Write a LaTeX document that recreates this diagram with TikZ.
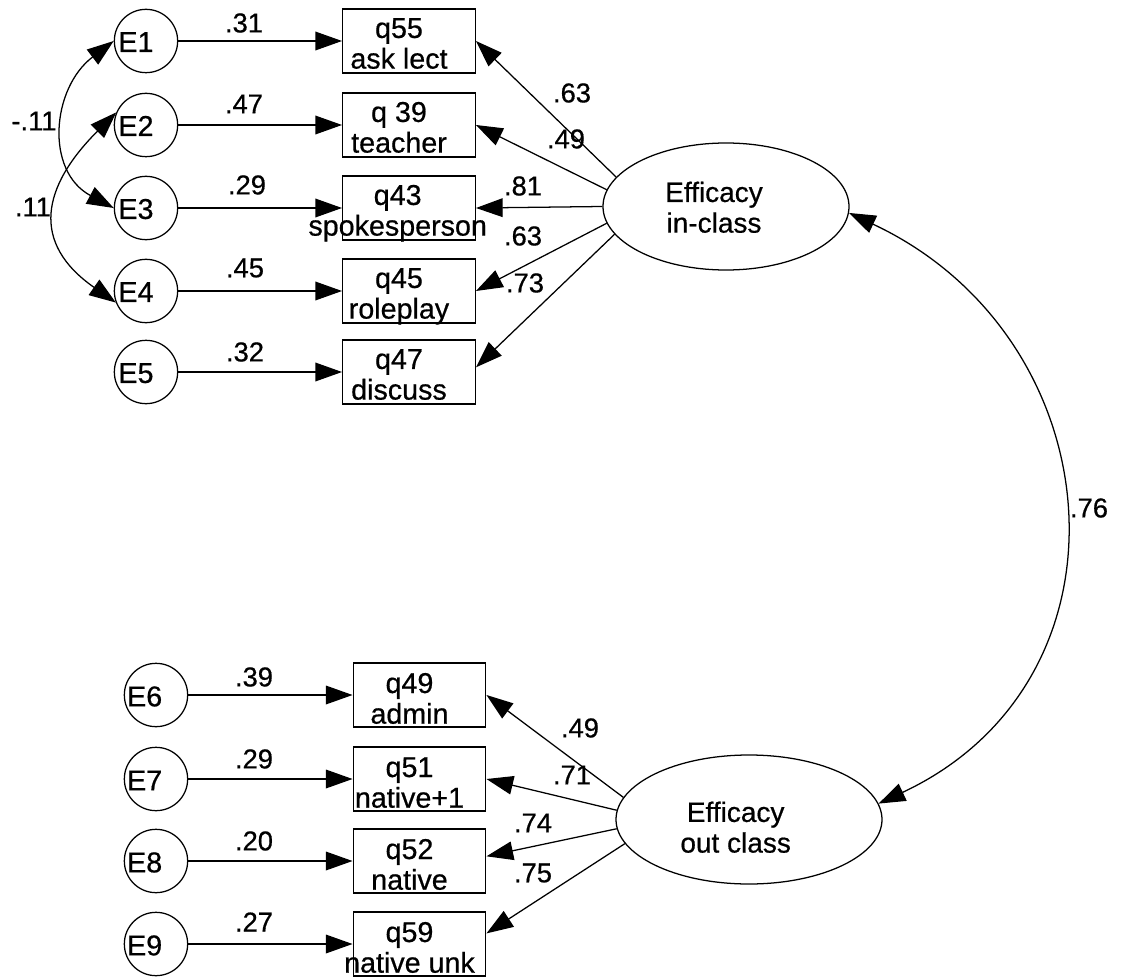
\documentclass[tikz,border=0pt]{standalone}
\usepackage{fontspec}
\setmainfont{Liberation Sans}[FakeBold=0.6]
\newfontfamily\heavysans{Liberation Sans}[FakeBold=0.6]
\usetikzlibrary{arrows.meta,calc,shapes.geometric}
% #1 = left shift (twice the visual shift), #2 = raise of first baseline, #3 = lines
\newcommand\shtxt[3]{\makebox[0pt]{\raisebox{#2}[0pt][0pt]{\begin{tabular}[t]{@{}c@{}}#3\end{tabular}}}\hspace*{#1}}
\begin{document}
\begin{tikzpicture}[x=0.75pt,y=-0.75pt,line width=0.95pt,
  err/.style={circle,draw,minimum size=47.5pt,inner sep=0pt,font=\heavysans\fontsize{21.5}{23}\selectfont},
  obs/.style={rectangle,draw,minimum width=99.5pt,minimum height=48pt,inner sep=0pt,font=\heavysans\fontsize{21.5}{23}\selectfont},
  lat/.style={ellipse,draw,inner sep=0pt,font=\heavysans\fontsize{21}{23}\selectfont},
  coef/.style={inner sep=0pt,font=\heavysans\fontsize{20.5}{22}\selectfont},
  arr/.style={-{Triangle[length=20pt,width=14pt]}},
  biarr/.style={{Triangle[length=20pt,width=14pt]}-{Triangle[length=20pt,width=14pt]}}
]
\useasboundingbox (0,0) rectangle (1125,977);

% ---- top block ----
\node[err] (E1) at (146,41)  {\shtxt{15pt}{-8.2pt}{E1}};
\node[err] (E2) at (146,125) {\shtxt{15pt}{-8.2pt}{E2}};
\node[err] (E3) at (146,208) {\shtxt{15pt}{-8.2pt}{E3}};
\node[err] (E4) at (146,291) {\shtxt{15pt}{-8.2pt}{E4}};
\node[err] (E5) at (146,372) {\shtxt{15pt}{-8.2pt}{E5}};

\node[obs] (q55) at (409,41)  {\shtxt{15pt}{2.3pt}{q55\\ask lect}};
\node[obs] (q39) at (409,125) {\shtxt{15pt}{2.3pt}{q 39\\teacher}};
\node[obs] (q43) at (409,208) {\shtxt{17pt}{2.3pt}{q43\\spokesperson}};
\node[obs] (q45) at (409,291) {\shtxt{15pt}{2.3pt}{q45\\roleplay}};
\node[obs] (q47) at (409,372) {\shtxt{15pt}{2.3pt}{q47\\discuss}};

\node[lat,minimum width=184.5pt,minimum height=95.25pt] (inc) at (726,206.5) {\shtxt{18pt}{3.4pt}{Efficacy\\in-class}};

% ---- bottom block ----
\node[err] (E6) at (156,695) {\shtxt{17pt}{-8.5pt}{E6}};
\node[err] (E7) at (156,779) {\shtxt{17pt}{-8.5pt}{E7}};
\node[err] (E8) at (156,861) {\shtxt{17pt}{-8.5pt}{E8}};
\node[err] (E9) at (156,944) {\shtxt{17pt}{-8.5pt}{E9}};

\node[obs] (q49) at (419.5,695) {\shtxt{15pt}{1.5pt}{q49\\admin}};
\node[obs] (q51) at (419.5,779) {\shtxt{15pt}{1.5pt}{q51\\native+1}};
\node[obs] (q52) at (419.5,861) {\shtxt{15pt}{1.5pt}{q52\\native}};
\node[obs] (q59) at (419.5,944) {\shtxt{15pt}{1.5pt}{q59\\native unk}};

\node[lat,minimum width=199.5pt,minimum height=96.75pt] (outc) at (749,819.5) {\shtxt{20pt}{-1.8pt}{Efficacy\\out class}};

% ---- error paths ----
\draw[arr] (E1) -- (q55);
\draw[arr] (E2) -- (q39);
\draw[arr] (E3) -- (q43);
\draw[arr] (E4) -- (q45);
\draw[arr] (E5) -- (q47);
\draw[arr] (E6) -- (q49);
\draw[arr] (E7) -- (q51);
\draw[arr] (E8) -- (q52);
\draw[arr] (E9) -- (q59);

% ---- loadings ----
\draw[arr] (inc.165.5) -- (q55.east);
\draw[arr] (inc.172) -- (q39.east);
\draw[arr] (inc.west) -- (q43.east);
\draw[arr] (inc.188) -- (q45.east);
\draw[arr] (inc.194.5) -- (q47.4);
\draw[arr] (outc.170) -- (q49.east);
\draw[arr] (outc.176) -- (q51.east);
\draw[arr] (outc.184) -- (q52.4);
\draw[arr] (outc.191) -- (q59.9);

% ---- covariances ----
\draw[biarr] (E1.west) .. controls ($(E1.west)+(-62,47)$) and ($(E3.west)+(-69,-37)$) .. (E3.west);
\draw[biarr] (E2.157) .. controls ($(E2.157)+(-74,74)$) and ($(E4.201)+(-86,-60)$) .. (E4.201);
\draw[biarr] (inc.-3) .. controls ($(inc.-3)+(265,124)$) and ($(outc.7)+(265,-124)$) .. (outc.7);

% ---- coefficients ----
\node[coef] (c1) at (244,23)  {.31};
\node[coef] (c2) at (244,104) {.47};
\node[coef] (c3) at (247,185) {.29};
\node[coef] (c4) at (245,268) {.45};
\node[coef] (c5) at (245,352) {.32};
\node[coef] (c6) at (254,677) {.39};
\node[coef] (c7) at (254,759) {.29};
\node[coef] (c8) at (254,841) {.20};
\node[coef] (c9) at (254,922) {.27};

\node[coef] (l1) at (572,93)  {.63};
\node[coef] (l2) at (566,139) {.49};
\node[coef] (l3) at (523,186) {.81};
\node[coef] (l4) at (523,236) {.63};
\node[coef] (l5) at (525,283) {.73};
\node[coef] (l6) at (580,728) {.49};
\node[coef] (l7) at (572,775) {.71};
\node[coef] (l8) at (533,823) {.74};
\node[coef] (l9) at (533,873) {.75};

\node[coef] (r1) at (34,121)  {-.11};
\node[coef] (r2) at (33,207)  {.11};
\node[coef] (r3) at (1089,508) {.76};
\end{tikzpicture}
\end{document}
